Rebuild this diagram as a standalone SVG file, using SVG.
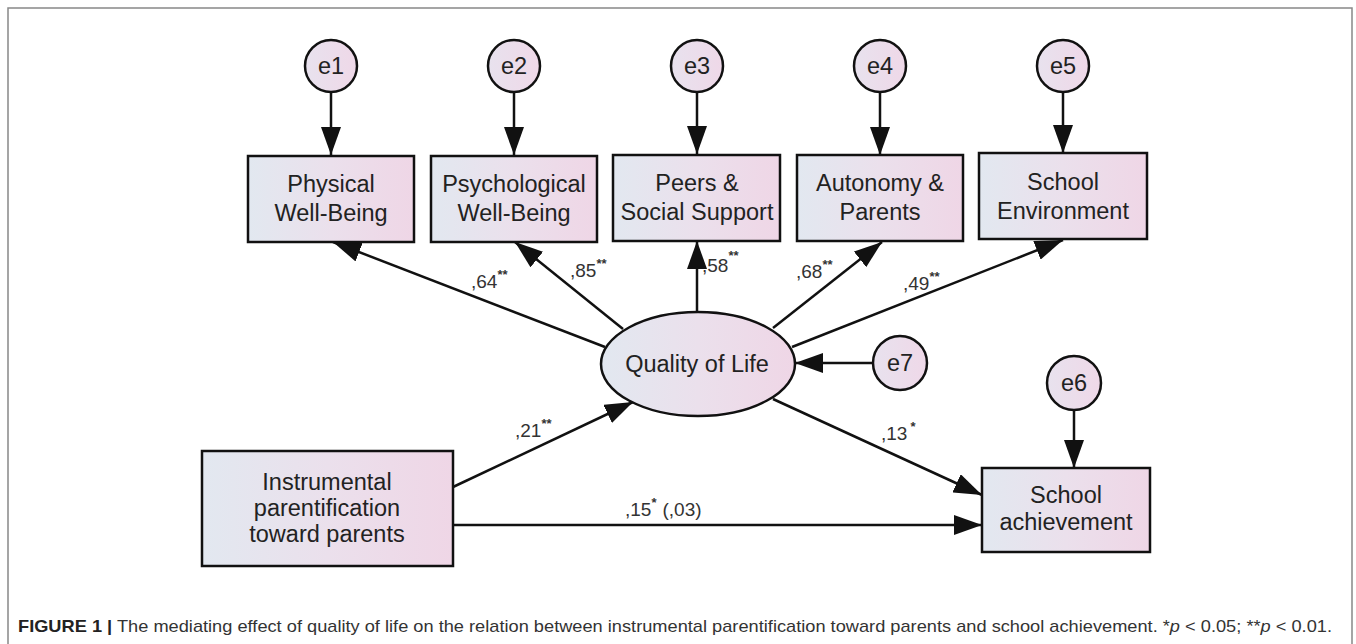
<svg xmlns="http://www.w3.org/2000/svg" width="1356" height="644" viewBox="0 0 1356 644">
<style>
.box{stroke:#111;stroke-width:2.5;fill:url(#g)}
.err{stroke:#111;stroke-width:2.5;fill:url(#gc)}
.t{font-family:"Liberation Sans",Arial,sans-serif;font-size:23.5px;fill:#222;text-anchor:middle}
.c{font-family:"Liberation Sans",Arial,sans-serif;font-size:19px;fill:#333}
.s{font-size:13px;font-weight:bold}
.ln{stroke:#111;stroke-width:2.5;fill:none;marker-end:url(#ah)}
.cap{font-family:"Liberation Sans",Arial,sans-serif;font-size:17px;fill:#333}
</style>
<defs>
<linearGradient id="g" x1="0" y1="0" x2="1" y2="0">
<stop offset="0" stop-color="#e2e8f0"/>
<stop offset="0.5" stop-color="#ebe0ec"/>
<stop offset="1" stop-color="#efd6e6"/>
</linearGradient>
<linearGradient id="gc" x1="0" y1="0" x2="1" y2="0">
<stop offset="0" stop-color="#e8e2ee"/>
<stop offset="1" stop-color="#efd8e8"/>
</linearGradient>
<marker id="ah" markerUnits="userSpaceOnUse" markerWidth="28" markerHeight="20" refX="28" refY="10" orient="auto">
<path d="M0,0 L28,10 L0,20 z" fill="#111"/>
</marker>
</defs>
<rect x="0" y="0" width="1356" height="644" fill="#fff"/>
<path d="M8,644 V8 H1352 V644" fill="none" stroke="#888" stroke-width="1.5"/>

<g id="connectors">
<line class="ln" x1="331" y1="92" x2="331" y2="155"/>
<line class="ln" x1="514" y1="92" x2="514" y2="155"/>
<line class="ln" x1="697" y1="92" x2="697" y2="154"/>
<line class="ln" x1="880" y1="92" x2="880" y2="155"/>
<line class="ln" x1="1063" y1="92" x2="1063" y2="153"/>
<line class="ln" x1="1074" y1="410" x2="1074" y2="468"/>
<line class="ln" x1="605" y1="347" x2="333" y2="242"/>
<line class="ln" x1="623" y1="329" x2="515" y2="242"/>
<line class="ln" x1="697" y1="312" x2="697" y2="241"/>
<line class="ln" x1="773" y1="328" x2="882" y2="242"/>
<line class="ln" x1="792" y1="347" x2="1063" y2="240"/>
<line class="ln" x1="873" y1="363" x2="795" y2="363"/>
<line class="ln" x1="453" y1="487" x2="633" y2="402"/>
<line class="ln" x1="773" y1="399" x2="982" y2="495"/>
<line class="ln" x1="453" y1="525" x2="982" y2="525"/>
<text class="c" x="471" y="288">,64<tspan class="s" dy="-9">**</tspan></text>
<text class="c" x="570" y="277">,85<tspan class="s" dy="-9">**</tspan></text>
<text class="c" x="702" y="272">,58<tspan class="s" dy="-12">**</tspan></text>
<text class="c" x="796" y="278">,68<tspan class="s" dy="-9">**</tspan></text>
<text class="c" x="903" y="290">,49<tspan class="s" dy="-9">**</tspan></text>
<text class="c" x="515" y="437">,21<tspan class="s" dy="-9">**</tspan></text>
<text class="c" x="881" y="440">,13<tspan class="s" dx="3" dy="-9">*</tspan></text>
<text class="c" x="625" y="516">,15<tspan class="s" dy="-9">*</tspan><tspan dx="6" dy="9">(,03)</tspan></text>
</g>

<g id="e1"><circle class="err" cx="331" cy="66" r="26"/><text class="t" x="331" y="74">e1</text></g>
<g id="e2"><circle class="err" cx="514" cy="66" r="26"/><text class="t" x="514" y="74">e2</text></g>
<g id="e3"><circle class="err" cx="697" cy="66" r="26"/><text class="t" x="697" y="74">e3</text></g>
<g id="e4"><circle class="err" cx="880" cy="66" r="26"/><text class="t" x="880" y="74">e4</text></g>
<g id="e5"><circle class="err" cx="1063" cy="66" r="26"/><text class="t" x="1063" y="74">e5</text></g>
<g id="e6"><circle class="err" cx="1074" cy="383" r="27"/><text class="t" x="1074" y="391">e6</text></g>
<g id="e7"><circle class="err" cx="900" cy="363" r="27"/><text class="t" x="900" y="371">e7</text></g>

<g id="physical"><rect class="box" x="248" y="156" width="166" height="86"/><text class="t" x="331" y="192">Physical</text><text class="t" x="331" y="221">Well-Being</text></g>
<g id="psychological"><rect class="box" x="431" y="156" width="166" height="86"/><text class="t" x="514" y="192">Psychological</text><text class="t" x="514" y="221">Well-Being</text></g>
<g id="peers"><rect class="box" x="613" y="155" width="167" height="86"/><text class="t" x="697" y="191">Peers &amp;</text><text class="t" x="697" y="220">Social Support</text></g>
<g id="autonomy"><rect class="box" x="797" y="155" width="166" height="86"/><text class="t" x="880" y="191">Autonomy &amp;</text><text class="t" x="880" y="220">Parents</text></g>
<g id="school-env"><rect class="box" x="979" y="153" width="168" height="86"/><text class="t" x="1063" y="190">School</text><text class="t" x="1063" y="219">Environment</text></g>

<g id="qol"><ellipse class="box" cx="698" cy="364" rx="97" ry="52"/><text class="t" x="697" y="372">Quality of Life</text></g>

<g id="instrumental"><rect class="box" x="202" y="451" width="251" height="115"/><text class="t" x="327" y="490">Instrumental</text><text class="t" x="327" y="516">parentification</text><text class="t" x="327" y="542">toward parents</text></g>

<g id="school-ach"><rect class="box" x="982" y="468" width="168" height="84"/><text class="t" x="1066" y="503">School</text><text class="t" x="1066" y="530">achievement</text></g>

<text class="cap" x="18" y="632" textLength="1314" lengthAdjust="spacingAndGlyphs"><tspan font-weight="bold" fill="#222">FIGURE 1</tspan> <tspan font-weight="bold" fill="#222">|</tspan> The mediating effect of quality of life on the relation between instrumental parentification toward parents and school achievement. *<tspan font-style="italic">p</tspan> &lt; 0.05; **<tspan font-style="italic">p</tspan> &lt; 0.01.</text>
</svg>
